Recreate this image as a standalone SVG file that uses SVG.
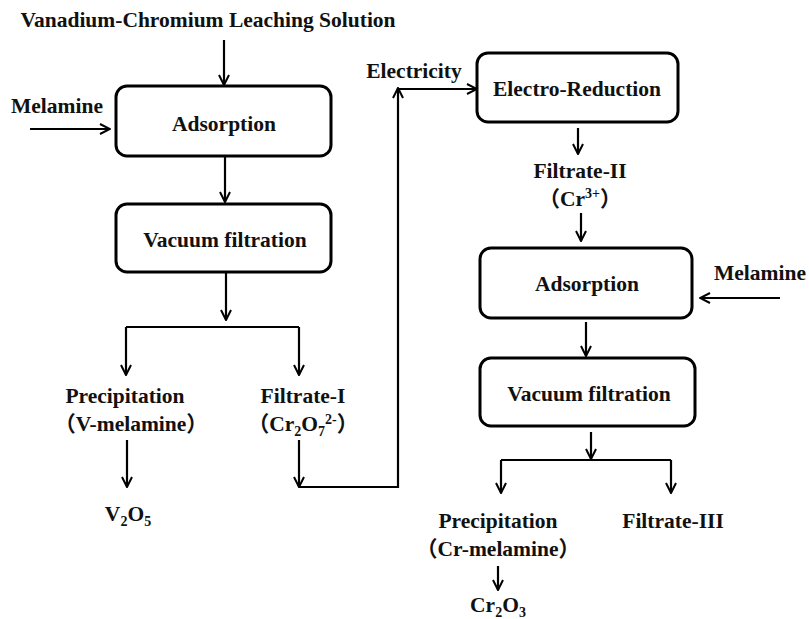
<svg xmlns="http://www.w3.org/2000/svg" width="809" height="619" viewBox="0 0 809 619">
<defs>
<marker id="ah" viewBox="0 0 12 12" refX="11" refY="6" markerWidth="12" markerHeight="12" markerUnits="userSpaceOnUse" orient="auto">
<path d="M1,1 L11,6 L1,11" fill="none" stroke="#000" stroke-width="2"/>
</marker>
<style>
text{font-family:"Liberation Serif","Times New Roman","Noto Sans CJK SC",serif;font-weight:bold;font-size:21.5px;fill:#111;text-anchor:middle}
.box{fill:#fff;stroke:#000;stroke-width:3}
.c{fill:none;stroke:#000;stroke-width:2.2}
.a{marker-end:url(#ah)}
</style>
</defs>
<rect width="809" height="619" fill="#fff"/>
<g id="connectors">
<line class="c a" x1="224" y1="40" x2="224" y2="85"/>
<line class="c a" x1="30" y1="129" x2="110" y2="129"/>
<line class="c a" x1="225" y1="157" x2="225" y2="202"/>
<line class="c a" x1="226" y1="273" x2="226" y2="320"/>
<polyline class="c" points="126,327 299,327"/>
<line class="c a" x1="126" y1="327" x2="126" y2="375"/>
<line class="c a" x1="299" y1="327" x2="299" y2="375"/>
<line class="c a" x1="127" y1="440" x2="127" y2="487"/>
<line class="c a" x1="299" y1="440" x2="299" y2="487"/>
<polyline class="c a" points="299,487 398,487 398,88"/>
<line class="c a" x1="398" y1="89" x2="477" y2="89"/>
<line class="c a" x1="578" y1="128" x2="578" y2="154"/>
<line class="c a" x1="581" y1="213" x2="581" y2="241"/>
<line class="c a" x1="780" y1="298" x2="700" y2="298"/>
<line class="c a" x1="586" y1="322" x2="586" y2="356"/>
<line class="c a" x1="591" y1="432" x2="591" y2="459"/>
<polyline class="c" points="501,460 671,460"/>
<line class="c a" x1="501" y1="460" x2="501" y2="493"/>
<line class="c a" x1="671" y1="460" x2="671" y2="493"/>
<line class="c a" x1="498" y1="566" x2="498" y2="590"/>
</g>
<g id="title"><text x="208" y="27" font-size="22">Vanadium-Chromium Leaching Solution</text></g>
<g id="melamine1"><text x="57" y="113">Melamine</text></g>
<g id="adsorption1"><rect class="box" x="116" y="86" width="215" height="70" rx="11"/><text x="224" y="131">Adsorption</text></g>
<g id="vacuum1"><rect class="box" x="116" y="204" width="215" height="68" rx="11"/><text x="225" y="247">Vacuum filtration</text></g>
<g id="precipitation1"><text x="125" y="403">Precipitation</text><text x="131" y="431">（V-melamine）</text></g>
<g id="filtrate1"><text x="303" y="403">Filtrate-I</text><text x="303" y="431">（Cr<tspan font-size="14" dy="5">2</tspan><tspan dy="-5">O</tspan><tspan font-size="14" dy="5">7</tspan><tspan font-size="14" dy="-12">2-</tspan><tspan dy="7">）</tspan></text></g>
<g id="v2o5"><text x="128" y="521">V<tspan font-size="14" dy="5">2</tspan><tspan dy="-5">O</tspan><tspan font-size="14" dy="5">5</tspan></text></g>
<g id="electricity"><text x="414" y="78">Electricity</text></g>
<g id="electro"><rect class="box" x="477" y="53" width="201" height="69" rx="11"/><text x="577" y="96">Electro-Reduction</text></g>
<g id="filtrate2"><text x="580" y="178">Filtrate-II</text><text x="580" y="206">（Cr<tspan font-size="14" dy="-8">3+</tspan><tspan dy="8">）</tspan></text></g>
<g id="adsorption2"><rect class="box" x="480" y="248" width="212" height="70" rx="11"/><text x="587" y="291">Adsorption</text></g>
<g id="melamine2"><text x="760" y="280">Melamine</text></g>
<g id="vacuum2"><rect class="box" x="480" y="358" width="215" height="68" rx="11"/><text x="589" y="401">Vacuum filtration</text></g>
<g id="precipitation2"><text x="498" y="528">Precipitation</text><text x="498" y="556">（Cr-melamine）</text></g>
<g id="filtrate3"><text x="673" y="528">Filtrate-III</text></g>
<g id="cr2o3"><text x="498" y="612">Cr<tspan font-size="14" dy="5">2</tspan><tspan dy="-5">O</tspan><tspan font-size="14" dy="5">3</tspan></text></g>
</svg>
